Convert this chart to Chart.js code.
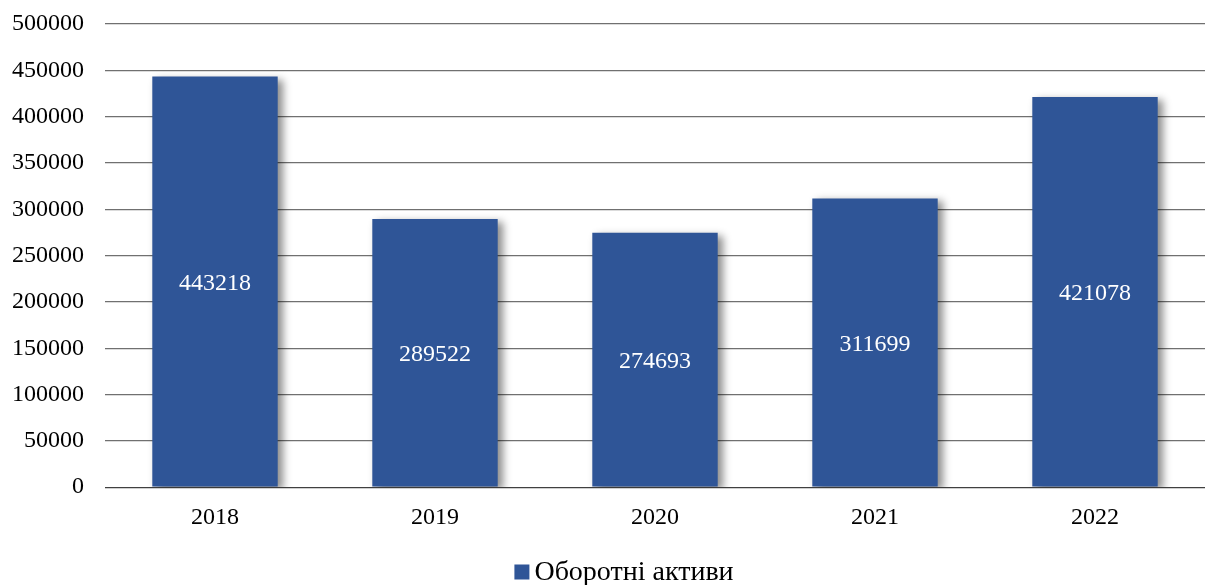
<!DOCTYPE html>
<html><head><meta charset="utf-8">
<script src="https://cdn.jsdelivr.net/npm/chart.js@4/dist/chart.umd.min.js"></script>
<style>html,body{margin:0;padding:0;background:#fff}#wrap{width:1214px;height:585px}</style>
</head><body><div id="wrap"><canvas id="c"></canvas></div>
<script>
const categories = ['2018','2019','2020','2021','2022'];
const values = [443218, 289522, 274693, 311699, 421078];
const seriesName = 'Оборотні активи';
const yTicks = [0,50000,100000,150000,200000,250000,300000,350000,400000,450000,500000];
const barColor = '#2F5597';

const shadowPlugin = {
  id: 'shadow',
  beforeDatasetDraw(chart){ const ctx=chart.ctx; ctx.save(); ctx.shadowColor='rgba(0,0,0,0.45)'; ctx.shadowBlur=8; ctx.shadowOffsetX=5; ctx.shadowOffsetY=3; },
  afterDatasetDraw(chart){ chart.ctx.restore(); }
};
const labelPlugin = {
  id: 'labels',
  afterDatasetsDraw(chart){
    const ctx=chart.ctx; const meta=chart.getDatasetMeta(0);
    ctx.save(); ctx.fillStyle='#fff'; ctx.font='24px "Liberation Serif"'; ctx.textAlign='center'; ctx.textBaseline='middle';
    meta.data.forEach((b,i)=>{ ctx.fillText(String(values[i]), b.x, (b.y+b.base)/2+2); });
    ctx.restore();
  }
};
const legendPlugin = {
  id: 'customLegend',
  afterDraw(chart){
    const ctx=chart.ctx; ctx.save();
    ctx.font='28px "Liberation Serif"';
    const tw=ctx.measureText(seriesName).width;
    const box=15, gap=5, total=box+gap+tw;
    const cx=624;
    const x0=cx-total/2, y=572;
    ctx.fillStyle=barColor; ctx.fillRect(x0, y-box/2, box, box);
    ctx.fillStyle='#000'; ctx.textBaseline='middle'; ctx.textAlign='left';
    ctx.fillText(seriesName, x0+box+gap, y+1);
    ctx.restore();
  }
};
new Chart(document.getElementById('c'), {
  type:'bar',
  data:{ labels:categories, datasets:[{ label:seriesName, data:values, backgroundColor:barColor, categoryPercentage:0.57, barPercentage:1 }]},
  options:{
    responsive:true, maintainAspectRatio:false, animation:false,
    layout:{ padding:{ top:24, right:9, left:0, bottom:45 } },
    plugins:{ tooltip:{enabled:false}, legend:{ display:false } },
    scales:{
      x:{ grid:{display:false}, border:{display:false}, ticks:{ font:{family:'Liberation Serif', size:24}, color:'#000', padding:8 } },
      y:{ min:0, max:500000, afterBuildTicks(ax){ ax.ticks = yTicks.map(v=>({value:v})); },
          afterFit(ax){ ax.width = 105; ax.paddingTop = 0; ax.paddingBottom = 0; },
          grid:{ color:(c)=> c.tick && c.tick.value===0 ? '#404040' : '#707070', lineWidth:1.2, drawTicks:false },
          border:{display:false},
          ticks:{ font:{family:'Liberation Serif', size:24}, color:'#000', padding:21, callback:(v)=>String(v) } }
    }
  },
  plugins:[shadowPlugin,labelPlugin,legendPlugin]
});
</script></body></html>
